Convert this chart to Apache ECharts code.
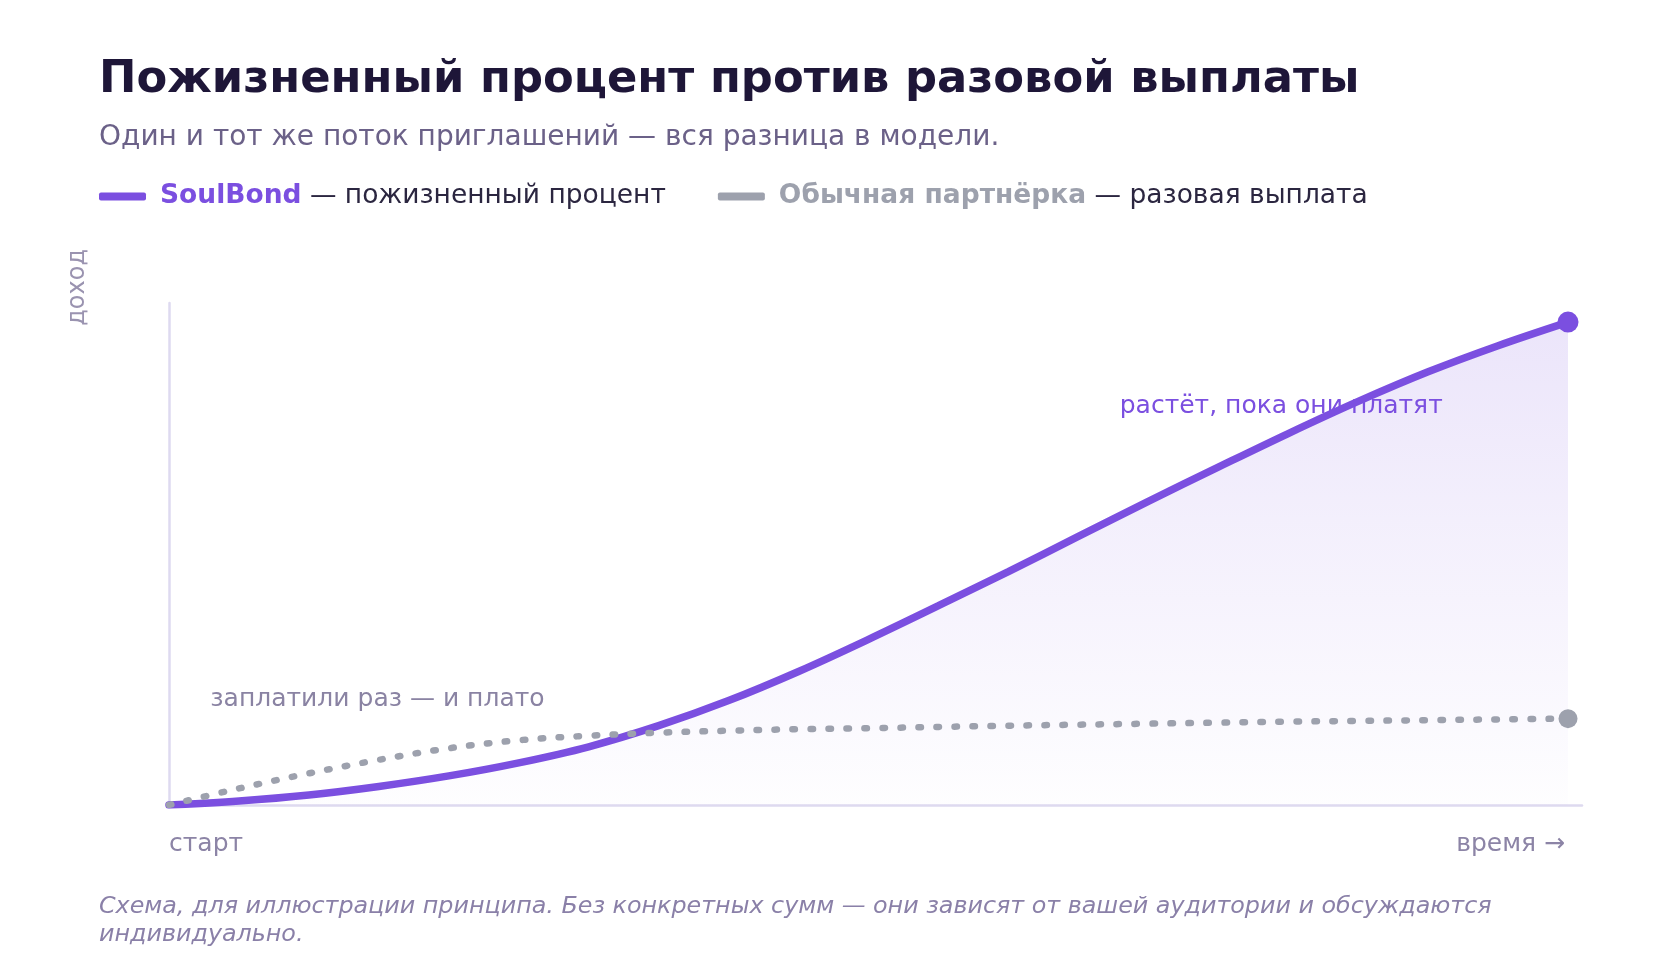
<!DOCTYPE html>
<html>
<head>
<meta charset="utf-8">
<script src="https://cdn.jsdelivr.net/npm/echarts@6/dist/echarts.min.js"></script>
<style>
  html, body { margin: 0; padding: 0; background: #fff; }
  #chart { width: 1680px; height: 980px; }
</style>
</head>
<body>
<div id="chart"></div>
<script>
// схема: доход во времени, без конкретных сумм
var timeSteps = [0, 5, 10, 15, 20, 25, 30, 35, 40, 45, 50, 55, 60, 65, 70, 75, 80, 85, 90, 95, 100];
var soulBond  = [0, 0.8, 2.0, 3.7, 5.8, 8.4, 11.6, 15.8, 20.8, 26.6, 33, 39.7, 46.5, 53.5, 60.5, 67.3, 74, 80.4, 86.3, 91.5, 96.2];
var oneTime   = [0, 3.3, 6.3, 9.0, 11.3, 12.9, 13.8, 14.4, 14.8, 15.1, 15.3, 15.55, 15.8, 16.0, 16.2, 16.4, 16.6, 16.75, 16.9, 17.05, 17.2];
var seriesNames = ['SoulBond', 'Обычная партнёрка'];
var seriesNotes = ['пожизненный процент', 'разовая выплата'];
var notes = [
  { text: 'растёт, пока они платят', at: [79.5, 79.4], color: '#7B4FE0' },
  { text: 'заплатили раз — и плато', at: [14.9, 21.0], color: '#8A83A3' }
];

var PURPLE = '#7B4FE0';
var GRAY = '#9DA1AD';
var FONT = '"DejaVu Sans", sans-serif';

function pairs(xs, ys) {
  return xs.map(function (x, i) { return [x, ys[i]]; });
}
var last = timeSteps.length - 1;

var chart = echarts.init(document.getElementById('chart'));

var option = {
  backgroundColor: '#ffffff',
  textStyle: { fontFamily: FONT },
  title: [
    {
      text: 'Пожизненный процент против разовой выплаты',
      left: 99, top: 58, padding: 0,
      textStyle: { fontFamily: FONT, fontSize: 44.8, fontWeight: 'bold', color: '#1E1638' }
    },
    {
      text: 'Один и тот же поток приглашений — вся разница в модели.',
      left: 99, top: 123.5, padding: 0,
      textStyle: { fontFamily: FONT, fontSize: 28, fontWeight: 'normal', color: '#6B6188' }
    },
    {
      text: 'Схема, для иллюстрации принципа. Без конкретных сумм — они зависят от вашей аудитории и обсуждаются\nиндивидуально.',
      left: 99, top: 893, padding: 0,
      textStyle: { fontFamily: FONT, fontSize: 23.8, fontStyle: 'italic', fontWeight: 'normal', color: '#8A80A8', lineHeight: 28 }
    }
  ],
  legend: {
    left: 99, top: 183, padding: 0,
    icon: 'roundRect',
    itemWidth: 47, itemHeight: 8,
    itemGap: 52,
    selectedMode: false,
    data: seriesNames,
    formatter: function (name) {
      var i = seriesNames.indexOf(name);
      return '{' + (i === 0 ? 'a' : 'b') + '|' + name + '}{n| — ' + seriesNotes[i] + '}';
    },
    textStyle: {
      fontFamily: FONT,
      fontSize: 26.5,
      rich: {
        a: { fontFamily: FONT, fontSize: 26.5, fontWeight: 'bold', color: PURPLE, padding: [0, 0, 0, 9] },
        b: { fontFamily: FONT, fontSize: 26.5, fontWeight: 'bold', color: GRAY, padding: [0, 0, 0, 9] },
        n: { fontFamily: FONT, fontSize: 26.5, color: '#2B2640' }
      }
    }
  },
  grid: { left: 169, right: 98, top: 303, bottom: 175 },
  xAxis: {
    type: 'value', min: 0, max: 101,
    axisLine: { show: true, lineStyle: { color: '#DEDAF0', width: 2.5 } },
    axisTick: { show: false },
    axisLabel: { show: false },
    splitLine: { show: false }
  },
  yAxis: {
    type: 'value', min: 0, max: 100,
    axisLine: { show: true, lineStyle: { color: '#DEDAF0', width: 2.5 } },
    axisTick: { show: false },
    axisLabel: { show: false },
    splitLine: { show: false }
  },
  graphic: [
    {
      type: 'text', left: 169, top: 832,
      style: { text: 'старт', font: '25px ' + FONT, fill: '#8C84A6' }
    },
    {
      type: 'text', right: 115, top: 832,
      style: { text: 'время →', font: '25px ' + FONT, fill: '#8C84A6' }
    },
    {
      type: 'text', left: 66, top: 249, rotation: Math.PI / 2,
      originX: 0, originY: 0,
      style: { text: 'доход', font: '24px ' + FONT, fill: '#9A93B0' }
    }
  ],
  series: [
    {
      name: 'area',
      type: 'line',
      z: 1,
      smooth: 0.35,
      showSymbol: false,
      silent: true,
      data: pairs(timeSteps, soulBond),
      lineStyle: { width: 0 },
      areaStyle: {
        color: new echarts.graphic.LinearGradient(0, 0, 0, 1, [
          { offset: 0, color: 'rgba(123,79,224,0.21)' },
          { offset: 1, color: 'rgba(123,79,224,0.01)' }
        ])
      }
    },
    {
      name: 'notes',
      type: 'scatter',
      z: 2,
      symbolSize: 0,
      silent: true,
      itemStyle: { opacity: 1 },
      data: notes.map(function (n) {
        return {
          value: n.at,
          label: { show: true, position: 'inside', formatter: n.text, color: n.color, fontSize: 25, fontFamily: FONT, textBorderWidth: 0 }
        };
      })
    },
    {
      name: seriesNames[0],
      type: 'line',
      z: 3,
      smooth: 0.35,
      showSymbol: false,
      data: pairs(timeSteps, soulBond),
      itemStyle: { color: PURPLE },
      lineStyle: { color: PURPLE, width: 7.5, cap: 'round' }
    },
    {
      name: seriesNames[1],
      type: 'line',
      z: 4,
      smooth: 0.35,
      showSymbol: false,
      data: pairs(timeSteps, oneTime),
      itemStyle: { color: GRAY },
      lineStyle: { color: GRAY, width: 6.5, type: [2.5, 15.5], cap: 'round' }
    },
    {
      name: 'ends',
      type: 'scatter',
      z: 5,
      silent: true,
      itemStyle: { opacity: 1 },
      data: [
        { value: [timeSteps[last], soulBond[last]], symbolSize: 21, itemStyle: { color: PURPLE } },
        { value: [timeSteps[last], oneTime[last]], symbolSize: 19, itemStyle: { color: GRAY } }
      ]
    }
  ]
};

chart.setOption(option);
</script>
</body>
</html>
